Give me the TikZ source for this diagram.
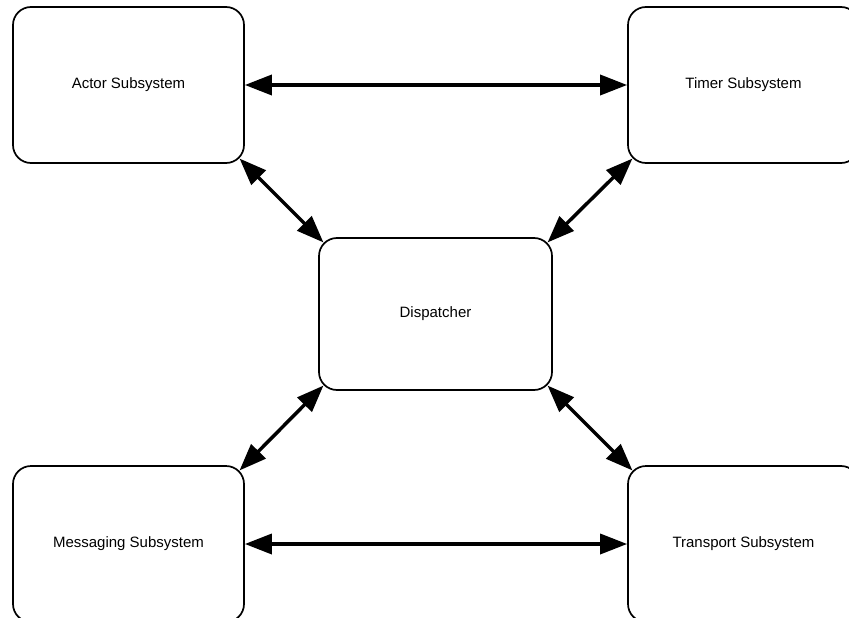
\documentclass[tikz,border=0pt]{standalone}
\usepackage{fontspec}
\setmainfont{Liberation Sans}
\usetikzlibrary{arrows.meta,calc}
\begin{document}
\begin{tikzpicture}[x=1pt,y=-1pt,
  subsys/.style={draw=black, line width=1.7pt, rounded corners=18pt,
    minimum width=231pt, minimum height=156pt, inner sep=0pt,
    font=\fontsize{15}{18}\selectfont},
  hub/.style={subsys, minimum width=233pt, minimum height=152pt},
  link/.style={line width=3.5pt,
    {Triangle[length=27pt,width=20pt]}-{Triangle[length=27pt,width=20pt]}}
]
\useasboundingbox (0,0) rectangle (849,618);
\fill[white] (0,0) rectangle (849,618);
\clip (0,0) rectangle (849,618);

% subsystems around the central dispatcher
\node[subsys] (actor) at (128.5,85)  {Actor Subsystem};
\node[subsys] (timer) at (743.5,85)  {Timer Subsystem};
\node[hub]    (disp)  at (435.5,314) {Dispatcher};
\node[subsys] (msg)   at (128.5,544) {Messaging Subsystem};
\node[subsys] (trans) at (743.5,544) {Transport Subsystem};

% horizontal links
\draw[link] (actor.east) -- (timer.west);
\draw[link] (msg.east) -- (trans.west);

% diagonal links, meeting the rounded corners at 45 degrees
\draw[link] ($(actor.south east)+(-5.3,-5.3)$) -- ($(disp.north west)+(5.3,5.3)$);
\draw[link] ($(timer.south west)+(5.3,-5.3)$) -- ($(disp.north east)+(-5.3,5.3)$);
\draw[link] ($(disp.south west)+(5.3,-5.3)$) -- ($(msg.north east)+(-5.3,5.3)$);
\draw[link] ($(disp.south east)+(-5.3,-5.3)$) -- ($(trans.north west)+(5.3,5.3)$);
\end{tikzpicture}
\end{document}
